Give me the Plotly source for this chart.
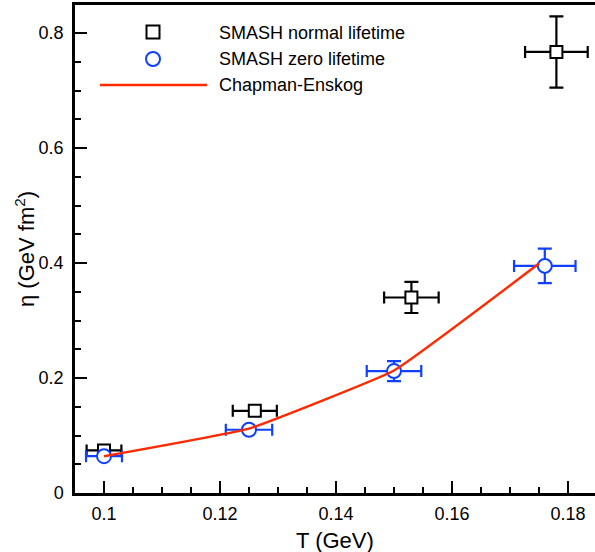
import plotly.graph_objects as go

# SMASH normal lifetime
T_norm = [0.1, 0.126, 0.153, 0.178]
eta_norm = [0.074, 0.143, 0.340, 0.767]
dT_norm = [0.003, 0.0038, 0.0047, 0.0054]
deta_norm = [0.0, 0.0, 0.027, 0.062]

# SMASH zero lifetime
T_zero = [0.1, 0.125, 0.150, 0.176]
eta_zero = [0.064, 0.110, 0.212, 0.395]
dT_zero = [0.0031, 0.004, 0.0047, 0.0053]
deta_zero = [0.0, 0.0, 0.0175, 0.030]

# Chapman-Enskog
T_ce = [0.1, 0.125, 0.150, 0.175]
eta_ce = [0.064, 0.112, 0.213, 0.399]

BLUE = "#1040ff"
RED = "#ff2a00"
FONT = "Liberation Sans, Arial, sans-serif"

fig = go.Figure()
fig.add_trace(go.Scatter(
    x=T_norm, y=eta_norm, mode="markers",
    marker=dict(symbol="square", size=12, color="white", line=dict(color="black", width=2)),
    error_x=dict(type="data", array=dT_norm, color="black", thickness=2.2, width=6),
    error_y=dict(type="data", array=deta_norm, color="black", thickness=2.2, width=7),
    showlegend=False))
fig.add_trace(go.Scatter(
    x=T_zero, y=eta_zero, mode="markers",
    marker=dict(symbol="circle", size=14, color="white", line=dict(color=BLUE, width=2)),
    error_x=dict(type="data", array=dT_zero, color=BLUE, thickness=2.2, width=6),
    error_y=dict(type="data", array=deta_zero, color=BLUE, thickness=2.2, width=7),
    showlegend=False))
fig.add_trace(go.Scatter(
    x=T_ce, y=eta_ce, mode="lines",
    line=dict(color=RED, width=2.5, shape="spline", smoothing=0.3),
    showlegend=False))

L, R, TOP, BOT = 75, 595, 5, 493
def px(x):
    return (x - L) / (R - L)
def py(y):
    return (BOT - y) / (BOT - TOP)

shapes = [
    dict(type="rect", xref="paper", yref="paper", x0=px(146.5), x1=px(159.5), y0=py(38.5), y1=py(25.5),
         line=dict(color="black", width=2), fillcolor="white"),
    dict(type="circle", xref="paper", yref="paper", x0=px(146), x1=px(160), y0=py(66), y1=py(52),
         line=dict(color=BLUE, width=2), fillcolor="white"),
    dict(type="line", xref="paper", yref="paper", x0=px(100), x1=px(207), y0=py(85), y1=py(85),
         line=dict(color=RED, width=2.5)),
]
legend_txt = [("SMASH normal lifetime", 33), ("SMASH zero lifetime", 59), ("Chapman-Enskog", 85)]
annotations = [dict(text=t, xref="paper", yref="paper", x=px(217), y=py(yy), xanchor="left", yanchor="middle",
                    showarrow=False, font=dict(size=18, color="black", family=FONT)) for t, yy in legend_txt]
annotations.append(dict(text="η (GeV fm<sup>2</sup>)", xref="paper", yref="paper", x=px(25), y=py(249),
                        textangle=-90, showarrow=False, xanchor="center", yanchor="middle",
                        font=dict(size=22, color="black", family=FONT)))
annotations.append(dict(text="T (GeV)", xref="paper", yref="paper", x=px(335), y=py(540),
                        showarrow=False, xanchor="center", yanchor="middle",
                        font=dict(size=22, color="black", family=FONT)))

fig.update_layout(
    width=595, height=552,
    margin=dict(l=L, r=595 - R, t=TOP, b=552 - BOT),
    plot_bgcolor="white", paper_bgcolor="white",
    font=dict(family=FONT, color="black"),
    shapes=shapes, annotations=annotations,
    xaxis=dict(range=[0.095, 0.095 + (R - L) / 5800], tick0=0.1, dtick=0.02, automargin=False,
               ticks="inside", ticklen=12, tickwidth=2, tickcolor="black",
               showline=True, linecolor="black", linewidth=2.5, mirror=True,
               showgrid=False, zeroline=False, tickfont=dict(size=18),
               minor=dict(dtick=0.005, tick0=0.1, ticks="inside", ticklen=6, tickwidth=1.5, tickcolor="black", showgrid=False),
               ticklabelstandoff=3),
    yaxis=dict(range=[0, (BOT - TOP) / 575], tick0=0, dtick=0.2, automargin=False,
               ticks="inside", ticklen=12, tickwidth=2, tickcolor="black",
               showline=True, linecolor="black", linewidth=2.5, mirror=False,
               showgrid=False, zeroline=False, tickfont=dict(size=18),
               minor=dict(dtick=0.05, ticks="inside", ticklen=6, tickwidth=1.5, tickcolor="black", showgrid=False),
               ticklabelstandoff=5),
)
fig.write_html("out.html", config={"displayModeBar": False},
               post_script="document.body.style.margin='0';document.body.style.overflow='hidden';")
